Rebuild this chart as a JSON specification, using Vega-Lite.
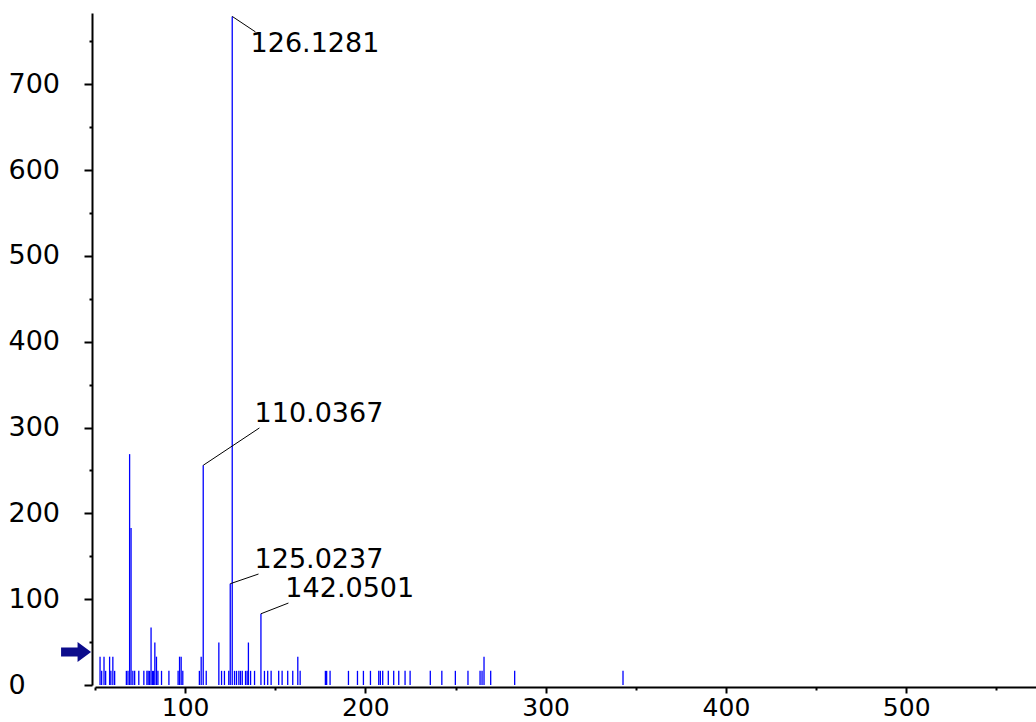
{
  "$schema": "https://vega.github.io/schema/vega-lite/v6.json",
  "autosize": "none",
  "width": 941,
  "height": 672,
  "padding": {"left": 95, "top": 13, "right": 0, "bottom": 37},
  "background": "white",
  "config": {
    "view": {"stroke": null},
    "axis": {
      "grid": false,
      "domainColor": "black",
      "domainWidth": 2,
      "tickColor": "black",
      "tickWidth": 2,
      "labelColor": "black",
      "labelFont": "DejaVu Sans",
      "labelFontSize": 27,
      "labelOverlap": false,
      "labelFlush": false,
      "labelBound": false
    }
  },
  "datasets": {
    "peaks": [
      {"mz": 52.8, "intensity": 33}, {"mz": 53.7, "intensity": 16.5}, {"mz": 55.0, "intensity": 33},
      {"mz": 55.9, "intensity": 16.5}, {"mz": 58.1, "intensity": 33}, {"mz": 58.8, "intensity": 16.5},
      {"mz": 59.9, "intensity": 33}, {"mz": 60.9, "intensity": 16.5}, {"mz": 67.4, "intensity": 16.5},
      {"mz": 68.3, "intensity": 16.5}, {"mz": 69.2, "intensity": 269}, {"mz": 70.0, "intensity": 183},
      {"mz": 71.0, "intensity": 16.5}, {"mz": 72.0, "intensity": 16.5}, {"mz": 74.3, "intensity": 16.5},
      {"mz": 77.1, "intensity": 16.5}, {"mz": 78.8, "intensity": 16.5}, {"mz": 79.5, "intensity": 16.5},
      {"mz": 80.3, "intensity": 16.5}, {"mz": 81.1, "intensity": 67}, {"mz": 81.9, "intensity": 16.5},
      {"mz": 82.5, "intensity": 16.5}, {"mz": 83.2, "intensity": 49.5}, {"mz": 84.1, "intensity": 33},
      {"mz": 84.9, "intensity": 16.5}, {"mz": 86.9, "intensity": 16.5}, {"mz": 91.0, "intensity": 16.5},
      {"mz": 96.1, "intensity": 16.5}, {"mz": 96.9, "intensity": 33}, {"mz": 97.8, "intensity": 33},
      {"mz": 98.7, "intensity": 16.5}, {"mz": 107.9, "intensity": 16.5}, {"mz": 108.9, "intensity": 33},
      {"mz": 110.0367, "intensity": 256}, {"mz": 111.7, "intensity": 16.5}, {"mz": 118.7, "intensity": 49.5},
      {"mz": 120.2, "intensity": 16.5}, {"mz": 121.8, "intensity": 16.5}, {"mz": 124.2, "intensity": 16.5},
      {"mz": 125.0237, "intensity": 118}, {"mz": 126.1281, "intensity": 779},
      {"mz": 127.4, "intensity": 16.5}, {"mz": 128.5, "intensity": 16.5}, {"mz": 129.8, "intensity": 16.5},
      {"mz": 130.7, "intensity": 16.5}, {"mz": 131.7, "intensity": 16.5}, {"mz": 133.5, "intensity": 16.5},
      {"mz": 134.4, "intensity": 16.5}, {"mz": 135.1, "intensity": 49.5}, {"mz": 136.3, "intensity": 16.5},
      {"mz": 138.5, "intensity": 16.5}, {"mz": 142.0501, "intensity": 83}, {"mz": 144.0, "intensity": 16.5},
      {"mz": 145.8, "intensity": 16.5}, {"mz": 147.7, "intensity": 16.5}, {"mz": 151.9, "intensity": 16.5},
      {"mz": 153.8, "intensity": 16.5}, {"mz": 156.9, "intensity": 16.5}, {"mz": 159.7, "intensity": 16.5},
      {"mz": 162.5, "intensity": 33}, {"mz": 163.8, "intensity": 16.5}, {"mz": 177.8, "intensity": 16.5},
      {"mz": 178.5, "intensity": 16.5}, {"mz": 180.4, "intensity": 16.5}, {"mz": 190.6, "intensity": 16.5},
      {"mz": 195.6, "intensity": 16.5}, {"mz": 198.9, "intensity": 16.5}, {"mz": 202.8, "intensity": 16.5},
      {"mz": 207.4, "intensity": 16.5}, {"mz": 208.3, "intensity": 16.5}, {"mz": 209.6, "intensity": 16.5},
      {"mz": 212.7, "intensity": 16.5}, {"mz": 215.7, "intensity": 16.5}, {"mz": 218.5, "intensity": 16.5},
      {"mz": 222.0, "intensity": 16.5}, {"mz": 224.8, "intensity": 16.5}, {"mz": 236.0, "intensity": 16.5},
      {"mz": 242.4, "intensity": 16.5}, {"mz": 249.9, "intensity": 16.5}, {"mz": 256.9, "intensity": 16.5},
      {"mz": 263.6, "intensity": 16.5}, {"mz": 264.7, "intensity": 16.5}, {"mz": 265.8, "intensity": 33},
      {"mz": 269.5, "intensity": 16.5}, {"mz": 282.8, "intensity": 16.5}, {"mz": 342.9, "intensity": 16.5}
    ],
    "labels": [
      {"mz": 126.1281, "intensity": 779, "lead_mz": 139.0, "lead_int": 761, "text_mz": 136.3, "text_int": 737.6, "label": "126.1281"},
      {"mz": 110.0367, "intensity": 256, "lead_mz": 141.2, "lead_int": 299.5, "text_mz": 138.5, "text_int": 306.5, "label": "110.0367"},
      {"mz": 125.0237, "intensity": 118, "lead_mz": 140.7, "lead_int": 129.3, "text_mz": 138.5, "text_int": 136.3, "label": "125.0237"},
      {"mz": 142.0501, "intensity": 83, "lead_mz": 157.3, "lead_int": 95.5, "text_mz": 155.6, "text_int": 102.5, "label": "142.0501"}
    ],
    "threshold": [{"mz": 39.5, "intensity": 38.5}]
  },
  "layer": [
    {
      "data": {"name": "peaks"},
      "mark": {"type": "rule", "color": "#0000ff", "strokeWidth": 1.3},
      "encoding": {
        "x": {
          "field": "mz", "type": "quantitative",
          "scale": {"domain": [50, 572], "nice": false, "zero": false},
          "axis": {
            "title": null, "orient": "bottom", "offset": 2,
            "values": [50, 100, 150, 200, 250, 300, 350, 400, 450, 500, 550],
            "labelExpr": "datum.value % 100 === 0 ? datum.label : ''",
            "tickSize": {"condition": {"test": "datum.value % 100 !== 0", "value": 3}, "value": 6},
            "labelFontSize": 25,
            "labelPadding": 22, "labelAlign": "center", "labelBaseline": "alphabetic"
          }
        },
        "y": {
          "field": "intensity", "type": "quantitative",
          "scale": {"domain": [0, 783], "nice": false},
          "axis": {
            "title": null, "orient": "left", "offset": 3,
            "values": [0, 50, 100, 150, 200, 250, 300, 350, 400, 450, 500, 550, 600, 650, 700, 750],
            "labelExpr": "datum.value % 100 === 0 ? datum.label : ''",
            "tickSize": {"condition": {"test": "datum.value % 100 !== 0", "value": 3}, "value": 8},
            "labelPadding": 76, "labelAlign": "left", "labelBaseline": "middle"
          }
        },
        "y2": {"datum": 0}
      }
    },
    {
      "data": {"name": "labels"},
      "mark": {"type": "rule", "color": "black", "strokeWidth": 1},
      "encoding": {
        "x": {"field": "mz", "type": "quantitative", "title": null},
        "y": {"field": "intensity", "type": "quantitative", "title": null},
        "x2": {"field": "lead_mz"},
        "y2": {"field": "lead_int"}
      }
    },
    {
      "data": {"name": "labels"},
      "mark": {"type": "text", "font": "DejaVu Sans", "fontSize": 27, "color": "black", "align": "left", "baseline": "alphabetic"},
      "encoding": {
        "x": {"field": "text_mz", "type": "quantitative", "title": null},
        "y": {"field": "text_int", "type": "quantitative", "title": null},
        "text": {"field": "label"}
      }
    },
    {
      "data": {"name": "threshold"},
      "mark": {
        "type": "point", "filled": true, "clip": false, "opacity": 1,
        "shape": "M -1 -0.3 L 0.1 -0.3 L 0.1 -0.67 L 1 0 L 0.1 0.67 L 0.1 0.3 L -1 0.3 Z",
        "size": 900, "color": "#0c0c8c"
      },
      "encoding": {
        "x": {"field": "mz", "type": "quantitative", "title": null},
        "y": {"field": "intensity", "type": "quantitative", "title": null}
      }
    }
  ]
}
